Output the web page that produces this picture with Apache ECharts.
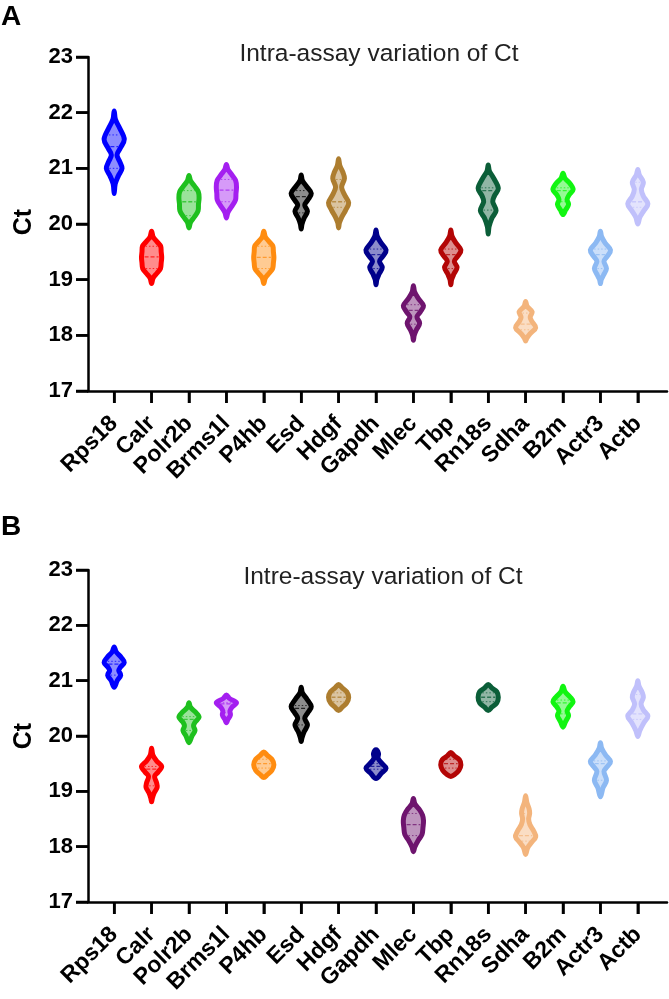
<!DOCTYPE html>
<html>
<head>
<meta charset="utf-8">
<script src="https://cdn.jsdelivr.net/npm/echarts@6/dist/echarts.min.js"></script>
<style>
  html, body { margin: 0; padding: 0; background: #fff; }
  #chart { width: 669px; height: 999px; }
</style>
</head>
<body>
<div id="chart"></div>
<script>
// gene names on the x axis
var genes = ['Rps18', 'Calr', 'Polr2b', 'Brms1l', 'P4hb', 'Esd', 'Hdgf', 'Gapdh',
  'Mlec', 'Tbp', 'Rn18s', 'Sdha', 'B2m', 'Actr3', 'Actb'];
var colors = ['#0000ff', '#ff0000', '#1ec01e', '#a41ff0', '#ff8c10', '#000000', '#ad7d2f', '#00008b',
  '#6e146e', '#b30505', '#0b5e38', '#f3b47c', '#11f511', '#8cb9f3', '#c0c0fb'];
var yTicks = [17, 18, 19, 20, 21, 22, 23];

// violin outlines: [Ct, relative density]
var intraShape = [
  [[22.03,0],[21.88,0.12],[21.72,0.55],[21.52,1],[21.36,0.6],[21.24,0.28],[21.12,0.55],[21.0,0.78],[20.86,0.4],[20.72,0.1],[20.55,0]],
  [[19.87,0],[19.77,0.15],[19.68,0.55],[19.6,0.9],[19.5,0.95],[19.4,1],[19.3,0.95],[19.2,0.88],[19.12,0.55],[19.03,0.15],[18.93,0]],
  [[20.87,0],[20.78,0.15],[20.68,0.55],[20.58,0.92],[20.47,1],[20.36,0.94],[20.24,0.9],[20.13,0.55],[20.03,0.15],[19.93,0]],
  [[21.07,0],[20.98,0.15],[20.88,0.55],[20.78,0.92],[20.66,1],[20.55,0.95],[20.43,0.9],[20.32,0.55],[20.21,0.15],[20.11,0]],
  [[19.87,0],[19.77,0.15],[19.68,0.55],[19.6,0.9],[19.5,0.95],[19.4,1],[19.3,0.95],[19.2,0.88],[19.12,0.55],[19.03,0.15],[18.93,0]],
  [[20.88,0],[20.78,0.12],[20.67,0.55],[20.55,1],[20.43,0.65],[20.34,0.35],[20.23,0.62],[20.11,0.3],[20.0,0.08],[19.91,0]],
  [[21.17,0],[21.05,0.12],[20.94,0.4],[20.82,0.58],[20.66,0.3],[20.52,0.6],[20.38,1],[20.25,0.7],[20.12,0.3],[20.02,0.08],[19.93,0]],
  [[19.89,0],[19.78,0.12],[19.66,0.5],[19.53,1],[19.42,0.68],[19.33,0.35],[19.22,0.62],[19.1,0.3],[19.0,0.08],[18.91,0]],
  [[18.89,0],[18.78,0.12],[18.66,0.5],[18.53,1],[18.42,0.68],[18.33,0.35],[18.22,0.62],[18.1,0.3],[18.0,0.08],[17.91,0]],
  [[19.89,0],[19.78,0.12],[19.66,0.5],[19.53,1],[19.42,0.68],[19.33,0.35],[19.22,0.62],[19.1,0.3],[19.0,0.08],[18.91,0]],
  [[21.06,0],[20.95,0.12],[20.82,0.55],[20.64,1],[20.5,0.6],[20.4,0.45],[20.24,0.78],[20.1,0.35],[19.95,0.08],[19.82,0]],
  [[18.61,0],[18.52,0.15],[18.42,0.65],[18.33,0.45],[18.25,0.62],[18.14,1],[18.03,0.45],[17.95,0.12],[17.9,0]],
  [[20.91,0],[20.82,0.2],[20.72,0.72],[20.62,1],[20.52,0.6],[20.44,0.4],[20.35,0.55],[20.25,0.25],[20.17,0]],
  [[19.87,0],[19.77,0.12],[19.65,0.5],[19.53,1],[19.42,0.68],[19.33,0.35],[19.2,0.6],[19.08,0.3],[19.0,0.08],[18.93,0]],
  [[20.98,0],[20.88,0.15],[20.75,0.55],[20.62,0.35],[20.5,0.55],[20.36,1],[20.24,0.6],[20.12,0.2],[20.0,0]]
];
var interShape = [
  [[21.61,0],[21.52,0.2],[21.42,0.7],[21.33,1],[21.24,0.6],[21.18,0.45],[21.1,0.65],[21.0,0.3],[20.88,0]],
  [[19.78,0],[19.66,0.12],[19.55,0.5],[19.45,1],[19.35,0.65],[19.27,0.3],[19.15,0.5],[19.07,0.55],[18.97,0.25],[18.88,0.08],[18.81,0]],
  [[20.6,0],[20.52,0.15],[20.43,0.65],[20.34,1],[20.25,0.6],[20.18,0.45],[20.1,0.6],[20.0,0.3],[19.88,0]],
  [[20.74,0],[20.68,0.3],[20.6,1],[20.52,0.55],[20.45,0.35],[20.38,0.4],[20.3,0.15],[20.24,0]],
  [[19.71,0],[19.65,0.35],[19.58,0.8],[19.48,1],[19.38,0.8],[19.3,0.35],[19.25,0]],
  [[20.88,0],[20.78,0.12],[20.67,0.55],[20.53,1],[20.42,0.65],[20.32,0.35],[20.2,0.62],[20.08,0.3],[19.97,0.08],[19.9,0]],
  [[20.93,0],[20.87,0.35],[20.8,0.8],[20.7,1],[20.6,0.8],[20.52,0.35],[20.46,0]],
  [[19.75,0],[19.68,0.25],[19.6,0.2],[19.5,0.6],[19.42,1],[19.33,0.55],[19.23,0]],
  [[18.87,0],[18.77,0.15],[18.67,0.6],[18.57,0.9],[18.47,1],[18.35,0.95],[18.22,0.85],[18.12,0.5],[18.0,0.15],[17.91,0]],
  [[19.7,0],[19.64,0.35],[19.57,0.85],[19.48,1],[19.38,0.8],[19.3,0.35],[19.27,0]],
  [[20.93,0],[20.87,0.35],[20.8,0.85],[20.7,1],[20.6,0.85],[20.52,0.35],[20.46,0]],
  [[18.92,0],[18.8,0.12],[18.68,0.35],[18.6,0.4],[18.5,0.3],[18.4,0.42],[18.28,0.8],[18.18,1],[18.08,0.6],[17.98,0.2],[17.86,0]],
  [[20.9,0],[20.8,0.2],[20.7,0.72],[20.62,1],[20.52,0.6],[20.45,0.4],[20.37,0.55],[20.26,0.25],[20.16,0]],
  [[19.88,0],[19.78,0.12],[19.66,0.5],[19.54,1],[19.44,0.65],[19.36,0.35],[19.2,0.6],[19.06,0.25],[18.9,0]],
  [[21.0,0],[20.9,0.12],[20.78,0.45],[20.7,0.55],[20.58,0.32],[20.47,0.55],[20.36,1],[20.24,0.6],[20.1,0.2],[19.99,0]]
];

// medians and quartiles
var intraMedian = [21.39, 19.41, 20.40, 20.61, 19.40, 20.49, 20.40, 19.45, 18.45, 19.45, 20.60, 18.20, 20.60, 19.45, 20.40];
var intraQ1 = [21.00, 19.20, 20.15, 20.40, 19.20, 20.20, 20.30, 19.20, 18.20, 19.20, 20.25, 18.10, 20.40, 19.20, 20.30];
var intraQ3 = [21.60, 19.60, 20.60, 20.80, 19.60, 20.60, 20.80, 19.55, 18.55, 19.55, 20.65, 18.40, 20.65, 19.55, 20.75];
var interMedian = [21.30, 19.40, 20.30, 20.58, 19.50, 20.50, 20.70, 19.45, 18.40, 19.50, 20.70, 18.20, 20.60, 19.50, 20.40];
var interQ1 = [21.10, 19.10, 20.10, 20.42, 19.42, 20.20, 20.62, 19.40, 18.20, 19.42, 20.62, 18.10, 20.40, 19.20, 20.30];
var interQ3 = [21.35, 19.45, 20.35, 20.60, 19.58, 20.55, 20.78, 19.50, 18.60, 19.58, 20.78, 18.60, 20.65, 19.55, 20.75];

var HALF = 0.27;   // max half width of a violin, in category units
var XMIN = -0.7, XMAX = 14.78;
var TICK = 12;
var FONT = 'Liberation Sans, Arial, sans-serif';

function densityAt(prof, ct) {
  for (var k = 0; k < prof.length - 1; k++) {
    var a = prof[k], b = prof[k + 1];
    if (ct <= a[0] && ct >= b[0]) {
      var t = (a[0] - ct) / (a[0] - b[0]);
      return a[1] + (b[1] - a[1]) * t;
    }
  }
  return 0;
}

function makeRender(shapes, med, q1, q3) {
  return function (params, api) {
    var i = params.dataIndex;
    var prof = shapes[i];
    var col = colors[i];
    var pts = [];
    prof.forEach(function (p) { pts.push(api.coord([i + p[1] * HALF, p[0]])); });
    for (var k = prof.length - 2; k > 0; k--) {
      pts.push(api.coord([i - prof[k][1] * HALF, prof[k][0]]));
    }
    var children = [{
      type: 'polygon',
      shape: { points: pts, smooth: 0.35 },
      style: { fill: col, fillOpacity: 0.45, stroke: col, lineWidth: 5, lineJoin: 'round' }
    }];
    var unit = api.size([1, 0])[0];
    function inner(ct, dash, w) {
      var c = api.coord([i, ct]);
      var hw = Math.max(densityAt(prof, ct) * HALF * unit - 3, 2);
      children.push({
        type: 'line',
        shape: { x1: c[0] - hw, y1: c[1], x2: c[0] + hw, y2: c[1] },
        style: { stroke: col, lineWidth: w, lineDash: dash, opacity: 0.75 }
      });
    }
    inner(med[i], [4, 2], 1.3);
    inner(q1[i], [1.5, 2], 1);
    inner(q3[i], [1.5, 2], 1);
    return { type: 'group', children: children };
  };
}

var idx = genes.map(function (g, i) { return i; });

function xAxisFor(gridIndex) {
  return {
    type: 'value', gridIndex: gridIndex, min: XMIN, max: XMAX,
    axisLine: { show: true, onZero: false, lineStyle: { color: '#000', width: 2.5 } },
    axisTick: { show: true, customValues: idx, length: TICK, lineStyle: { color: '#000', width: 2.5 } },
    axisLabel: {
      customValues: idx, rotate: 45, margin: 29, color: '#000',
      fontFamily: FONT, fontWeight: 'bold', fontSize: 23,
      formatter: function (v) { return genes[Math.round(v)]; }
    },
    splitLine: { show: false }
  };
}
function yAxisFor(gridIndex) {
  return {
    type: 'value', gridIndex: gridIndex, min: 17, max: 23, interval: 1,
    axisLine: { show: true, onZero: false, lineStyle: { color: '#000', width: 2.5 } },
    axisTick: { show: true, length: TICK, lineStyle: { color: '#000', width: 2.5 } },
    axisLabel: {
      margin: 15, color: '#000', fontFamily: FONT, fontWeight: 'bold', fontSize: 22
    },
    splitLine: { show: false }
  };
}

var texts = [
  { type: 'text', left: 1, top: 3, style: { text: 'A', font: 'bold 28px ' + FONT, fill: '#000' } },
  { type: 'text', left: 1, top: 513, style: { text: 'B', font: 'bold 28px ' + FONT, fill: '#000' } },
  { type: 'text', x: 379, y: 54, style: { text: 'Intra-assay variation of Ct', font: '24.5px ' + FONT, fill: '#222', align: 'center', verticalAlign: 'middle' } },
  { type: 'text', x: 383, y: 577, style: { text: 'Intre-assay variation of Ct', font: '24.5px ' + FONT, fill: '#222', align: 'center', verticalAlign: 'middle' } },
  { type: 'text', x: 24, y: 222, rotation: Math.PI / 2, style: { text: 'Ct', font: 'bold 25px ' + FONT, fill: '#000', align: 'center', verticalAlign: 'middle' } },
  { type: 'text', x: 24, y: 736, rotation: Math.PI / 2, style: { text: 'Ct', font: 'bold 25px ' + FONT, fill: '#000', align: 'center', verticalAlign: 'middle' } }
];

var series = [];
[[intraShape, intraMedian, intraQ1, intraQ3], [interShape, interMedian, interQ1, interQ3]].forEach(function (set, g) {
  series.push({
    type: 'custom', xAxisIndex: g, yAxisIndex: g,
    data: idx.map(function (i) { return [i, set[1][i]]; }),
    encode: { x: 0, y: 1 },
    renderItem: makeRender(set[0], set[1], set[2], set[3])
  });
});

var chart = echarts.init(document.getElementById('chart'), null, { renderer: 'canvas' });
chart.setOption({
  animation: false,
  backgroundColor: '#fff',
  grid: [
    { left: 88, right: 2, top: 57, height: 334 },
    { left: 88, right: 2, top: 570, height: 332 }
  ],
  xAxis: [xAxisFor(0), xAxisFor(1)],
  yAxis: [yAxisFor(0), yAxisFor(1)],
  graphic: texts,
  series: series
});

// tick marks also as graphic rects on top, placed through the axes' own scales
var tickMarks = [];
[0, 1].forEach(function (g) {
  var finder = { xAxisIndex: g, yAxisIndex: g };
  idx.forEach(function (i) {
    var p = chart.convertToPixel(finder, [i, 17]);
    tickMarks.push({ type: 'rect', silent: true, z: 100,
      shape: { x: p[0] - 1.25, y: p[1], width: 2.5, height: TICK }, style: { fill: '#000' } });
  });
  yTicks.forEach(function (v) {
    var p = chart.convertToPixel(finder, [XMIN, v]);
    tickMarks.push({ type: 'rect', silent: true, z: 100,
      shape: { x: p[0] - TICK, y: p[1] - 1.25, width: TICK, height: 2.5 }, style: { fill: '#000' } });
  });
});
chart.setOption({ graphic: texts.concat(tickMarks) });
</script>
</body>
</html>
